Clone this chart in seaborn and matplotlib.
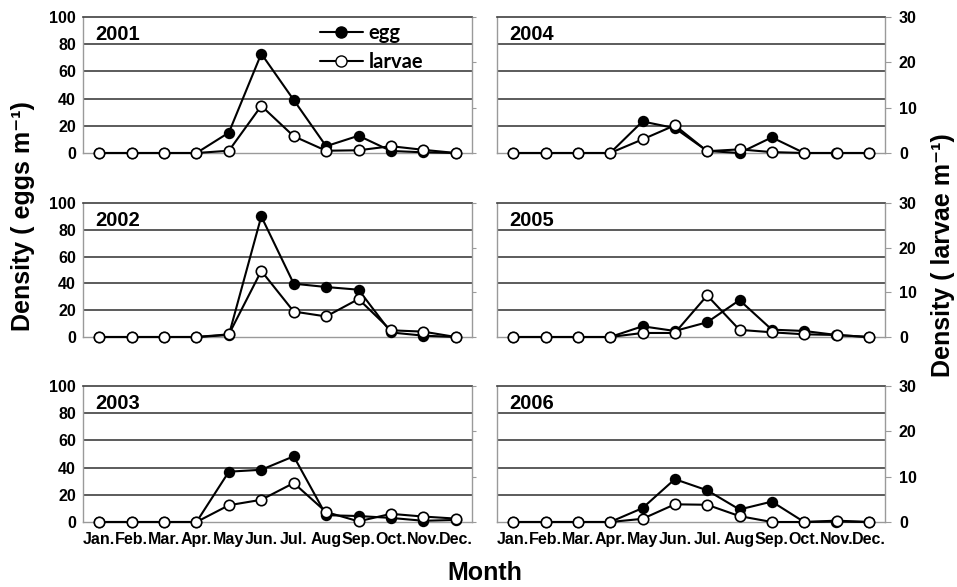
import matplotlib
matplotlib.use("Agg")
import matplotlib.pyplot as plt
from matplotlib.lines import Line2D
import seaborn as sns
import pandas as pd

months = ["Jan.", "Feb.", "Mar.", "Apr.", "May", "Jun.", "Jul.", "Aug", "Sep.", "Oct.", "Nov.", "Dec."]
years = ["2001", "2002", "2003", "2004", "2005", "2006"]

egg_2001 = [0, 0, 0, 0, 15, 73, 39, 5, 12.7, 1.5, 0.5, 0]
larvae_2001 = [0, 0, 0, 0, 0.5, 10.4, 3.7, 0.5, 0.6, 1.5, 0.7, 0]
egg_2002 = [0, 0, 0, 0, 1.5, 90, 39.8, 37.3, 35.3, 3.4, 1, 0]
larvae_2002 = [0, 0, 0, 0, 0.6, 14.8, 5.7, 4.6, 8.5, 1.5, 1.2, 0]
egg_2003 = [0, 0, 0, 0, 37, 38.4, 48.3, 5, 4.4, 3, 0.9, 1.5]
larvae_2003 = [0, 0, 0, 0, 3.7, 4.9, 8.6, 2.2, 0.15, 1.8, 1.2, 0.75]
egg_2004 = [0, 0, 0, 0, 23.2, 18.3, 1.5, 0, 11.5, 0, 0, 0]
larvae_2004 = [0, 0, 0, 0, 3.0, 6.1, 0.4, 0.8, 0.2, 0, 0, 0]
egg_2005 = [0, 0, 0, 0, 8, 4.5, 11, 27.5, 5.5, 4.5, 1.5, 0]
larvae_2005 = [0, 0, 0, 0, 0.9, 0.9, 9.3, 1.6, 1.05, 0.6, 0.45, 0]
egg_2006 = [0, 0, 0, 0, 10.2, 31.5, 23.3, 9.2, 15, 0, 0.3, 0]
larvae_2006 = [0, 0, 0, 0, 0.7, 3.9, 3.8, 1.3, 0, 0, 0.3, 0]

egg_ticks = [0, 20, 40, 60, 80, 100]
larvae_ticks = [0, 10, 20, 30]

eggs = [egg_2001, egg_2002, egg_2003, egg_2004, egg_2005, egg_2006]
larvae = [larvae_2001, larvae_2002, larvae_2003, larvae_2004, larvae_2005, larvae_2006]

sns.set_style("white")
plt.rcParams["font.family"] = ["Liberation Sans", "DejaVu Sans"]
plt.rcParams["font.weight"] = "bold"
plt.rcParams["text.color"] = "black"
plt.rcParams["xtick.labelcolor"] = "black"
plt.rcParams["ytick.labelcolor"] = "black"

W, H = 957, 587
fig = plt.figure(figsize=(W / 100, H / 100), dpi=100)

col_x = [(83, 472), (497, 885)]
row_y = [(17, 153), (203, 337), (386, 522)]

GRID = "#404040"
SPINE = "#9a9a9a"

for i, yr in enumerate(years):
    col = i // 3
    row = i % 3
    x0, x1 = col_x[col]
    yt, yb = row_y[row]
    ax = fig.add_axes([x0 / W, 1 - yb / H, (x1 - x0) / W, (yb - yt) / H])
    ax2 = ax.twinx()

    df = pd.DataFrame({"month": list(range(12)), "egg": eggs[i], "larvae": larvae[i]})

    sns.lineplot(data=df, x="month", y="egg", ax=ax, color="black", lw=1.5,
                 marker="o", markersize=7, markerfacecolor="black",
                 markeredgecolor="black", markeredgewidth=1.2, clip_on=False, zorder=3)
    sns.lineplot(data=df, x="month", y="larvae", ax=ax2, color="black", lw=1.5,
                 marker="o", markersize=7.5, markerfacecolor="white",
                 markeredgecolor="black", markeredgewidth=1.2, clip_on=False, zorder=4)

    ax.set_xlim(-0.5, 11.5)
    ax.set_ylim(0, 100)
    ax2.set_ylim(0, 30)
    ax.set_yticks(egg_ticks)
    ax2.set_yticks(larvae_ticks)
    ax.set_xticks(range(12))

    for y in egg_ticks[1:-1]:
        ax.axhline(y, color=GRID, lw=1.2, zorder=1)

    for s in ["left", "right", "bottom"]:
        ax.spines[s].set_color(SPINE)
        ax.spines[s].set_linewidth(1.0)
    ax.spines["top"].set_color(GRID)
    ax.spines["top"].set_linewidth(1.2)
    for s in ax2.spines.values():
        s.set_visible(False)

    ax.set_xlabel("")
    ax.set_ylabel("")
    ax2.set_xlabel("")
    ax2.set_ylabel("")

    if row == 2:
        ax.set_xticklabels(months, fontsize=11.5, fontweight="bold")
        ax.tick_params(axis="x", length=0, pad=7, labelcolor="black")
    else:
        ax.set_xticklabels([])
        ax.tick_params(axis="x", length=0)

    if col == 0:
        ax.set_yticklabels([str(t) for t in egg_ticks], fontsize=11.5, fontweight="bold")
        ax.tick_params(axis="y", length=0, pad=5, labelcolor="black")
        ax2.set_yticklabels([])
        ax2.tick_params(axis="y", length=3, width=0.8, color=SPINE, direction="out")
    else:
        ax.set_yticklabels([])
        ax.tick_params(axis="y", length=0)
        ax2.set_yticklabels([str(t) for t in larvae_ticks], fontsize=11.5, fontweight="bold")
        ax2.tick_params(axis="y", length=4, width=0.8, color=SPINE, direction="out",
                        pad=6, labelcolor="black")

    ax.text(0.032, 0.83, yr, transform=ax.transAxes, fontsize=14.5, fontweight="bold",
            ha="left", va="baseline", zorder=5, color="black")

    if i == 0:
        handles = [
            Line2D([0], [0], color="black", lw=1.5, marker="o", markersize=8,
                   markerfacecolor="black", markeredgecolor="black"),
            Line2D([0], [0], color="black", lw=1.5, marker="o", markersize=8,
                   markerfacecolor="white", markeredgecolor="black"),
        ]
        leg = ax.legend(handles, ["egg", "larvae"], loc="upper left",
                        bbox_to_anchor=(0.61, 0.955), frameon=False, borderpad=0,
                        borderaxespad=0, handlelength=2.1, handletextpad=0.3,
                        labelspacing=0.45,
                        prop={"family": ["Lato", "DejaVu Sans"], "weight": "bold", "size": 14.5})
        for t in leg.get_texts():
            t.set_color("black")

fig.text(23 / W, 1 - 216 / H, "Density ( eggs m\u207b\u00b9)", rotation=90, fontsize=18,
         fontweight="bold", ha="center", va="center", color="black")
fig.text(943 / W, 1 - 255 / H, "Density ( larvae m\u207b\u00b9)", rotation=90, fontsize=18,
         fontweight="bold", ha="center", va="center", color="black")
fig.text(485 / W, 1 - 573 / H, "Month", fontsize=18, fontweight="bold",
         ha="center", va="center", color="black")

fig.savefig("out.png", dpi=100, facecolor="white")
